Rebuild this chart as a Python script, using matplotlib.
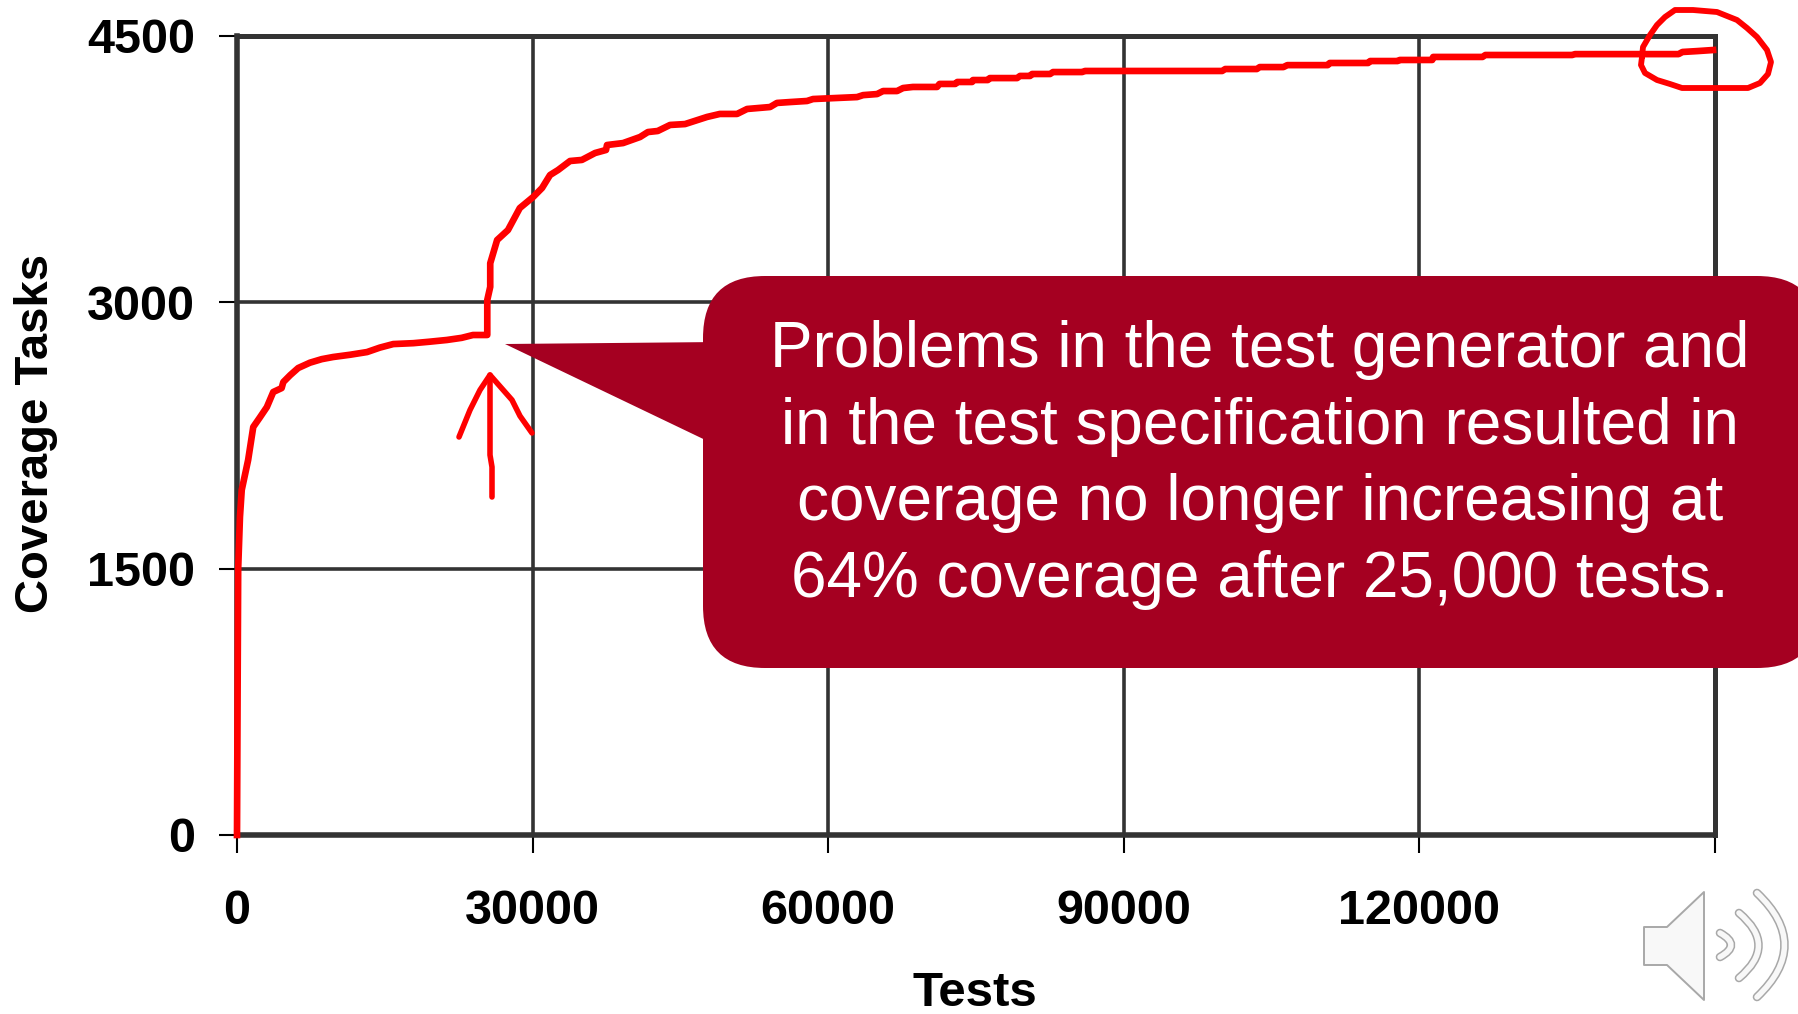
import matplotlib
matplotlib.use("Agg")
import matplotlib.pyplot as plt
from matplotlib.patches import FancyBboxPatch, Polygon, PathPatch
from matplotlib.path import Path

W, H = 1798, 1014

# coverage curve
tests = [0, 60, 120, 300, 480, 1130, 1650, 2300, 3030, 3680, 4530, 4700, 5400, 6210, 7400,
         8600, 9750, 11500, 13200, 14500, 15860, 17900, 19500, 21300, 22800, 23950, 25400,
         25400, 25700, 25700, 26400, 27500, 28700, 30050, 30960, 31770, 32580, 33800, 35000,
         36340, 37450, 37550, 39180, 40900, 41700, 42700, 43950, 45470, 47700, 49000, 50750,
         51770, 54100, 54800, 56130, 57850, 58460, 62930, 63540, 64960, 65570, 66990, 67600,
         68600, 71050, 71300, 72900, 73100, 74600, 74700, 76200, 76400, 79170, 79470, 80490,
         80690, 82520, 82820, 85770, 86070, 99980, 100300, 103500, 103800, 106200, 106600,
         110700, 110900, 114800, 115000, 117800, 118000, 121300, 121400, 126400, 126700,
         135500, 135800, 146300, 146700, 148200, 149800]
tasks = [0, 800, 1500, 1791, 1943, 2112, 2298, 2350, 2410, 2495, 2517, 2551, 2590, 2630, 2660,
         2680, 2692, 2705, 2720, 2745, 2765, 2770, 2778, 2788, 2800, 2816, 2816,
         3013, 3087, 3220, 3351, 3407, 3531, 3593, 3644, 3717, 3745, 3796, 3802,
         3841, 3858, 3886, 3897, 3931, 3959, 3965, 3999, 4004, 4044, 4061, 4061,
         4089, 4100, 4123, 4128, 4134, 4145, 4156, 4167, 4173, 4190, 4190, 4207,
         4213, 4213, 4230, 4230, 4241, 4241, 4252, 4252, 4263, 4263, 4275, 4275,
         4286, 4286, 4297, 4297, 4303, 4303, 4314, 4314, 4325, 4325, 4336,
         4336, 4348, 4348, 4359, 4359, 4365, 4365, 4382, 4382, 4393,
         4393, 4398, 4398, 4410, 4415, 4421]

x_ticks = [0, 30000, 60000, 90000, 120000, 150000]
x_labels = ["0", "30000", "60000", "90000", "120000", ""]
y_ticks = [0, 1500, 3000, 4500]
y_labels = ["0", "1500", "3000", "4500"]

callout_lines = [
    "Problems in the test generator and",
    "in the test specification resulted in",
    "coverage no longer increasing at",
    "64% coverage after 25,000 tests.",
]

# hand drawn ink, in pixels
ring_x = [1642, 1641, 1645, 1657, 1670, 1682, 1715, 1748, 1760, 1768, 1771, 1767, 1757, 1747,
          1737, 1717, 1693, 1675, 1665, 1657, 1650, 1643, 1642]
ring_y = [57, 65, 73, 80, 84, 88, 88, 88, 83, 74, 62, 50, 37, 28, 20, 12, 10, 10, 17, 25, 35, 47, 57]
arrow_head_x = [459, 470, 480, 490, 512, 520, 532]
arrow_head_y = [437, 410, 390, 375, 400, 416, 433]
arrow_shaft_x = [490, 490, 492, 492]
arrow_shaft_y = [375, 455, 467, 497]

plt.rcParams["font.family"] = ["Liberation Sans", "DejaVu Sans"]

DARK = "#333333"
RED = "#ff0000"
MAROON = "#a50021"
SPEAKER = "#a8a8a8"

fig = plt.figure(figsize=(W / 100, H / 100), dpi=100, facecolor="white")
ax = fig.add_axes([237 / W, 1 - 835 / H, (1715 - 237) / W, (835 - 36) / H])

ax.plot(tests, tasks, color=RED, lw=4.8, solid_joinstyle="round", clip_on=False, zorder=4)
ax.set_xlim(0, 150000)
ax.set_ylim(0, 4500)
ax.set_xticks(x_ticks)
ax.set_xticklabels(x_labels)
ax.set_yticks(y_ticks)
ax.set_yticklabels(y_labels)
ax.grid(True, color=DARK, lw=2.6)
ax.set_axisbelow(True)
for spine in ax.spines.values():
    spine.set_color(DARK)
    spine.set_linewidth(3.6)
ax.spines["left"].set_linewidth(4)
ax.spines["bottom"].set_linewidth(4)
ax.tick_params(axis="both", length=13, width=1.5, color="black", labelsize=35)
ax.tick_params(axis="x", pad=26)
ax.tick_params(axis="y", pad=17)
for label in ax.get_xticklabels() + ax.get_yticklabels():
    label.set_fontweight("bold")

# overlay in pixel coordinates for the callout, ink and speaker
ov = fig.add_axes([0, 0, 1, 1], facecolor="none")
ov.set_xlim(0, W)
ov.set_ylim(H, 0)
ov.axis("off")

ov.text(36, 433, "Coverage Tasks", rotation=90, ha="center", va="center",
        fontsize=34, fontweight="bold", color="black")
ov.text(975, 994, "Tests", ha="center", va="center", fontsize=35.5, fontweight="bold", color="black")

# callout body, runs off the right edge
ov.add_patch(FancyBboxPatch((703 + 62, 276 + 62), 1116 - 124, 392 - 124,
                            boxstyle="round,pad=62,rounding_size=62",
                            fc=MAROON, ec="none", clip_on=True, zorder=5))
ov.add_patch(Polygon([(505, 344), (720, 342), (720, 447)], closed=True, fc=MAROON, ec="none", zorder=5))
ov.text(1260, 465, "\n".join(callout_lines), color="white", ha="center", va="center",
        fontsize=46, linespacing=1.35, zorder=6)

# ink marks
ink = dict(color=RED, solid_capstyle="round", solid_joinstyle="round", zorder=7)
ov.plot(ring_x, ring_y, lw=4.2, **ink)
ov.plot(arrow_head_x, arrow_head_y, lw=4, **ink)
ov.plot(arrow_shaft_x, arrow_shaft_y, lw=4, **ink)

# speaker icon
ov.add_patch(Polygon([(1644, 927), (1667, 927), (1704, 892), (1704, 1000), (1667, 965), (1644, 965)],
                     closed=True, fc="#f8f8f8", ec=SPEAKER, lw=1.4, joinstyle="round"))


def sound_wave(x0, y0, cx, x1, y1):
    # curved band with a thin grey outline
    verts = [(x0, y0), (cx, (y0 + y1) / 2), (x1, y1)]
    path = Path(verts, [Path.MOVETO, Path.CURVE3, Path.CURVE3])
    ov.add_patch(PathPatch(path, fc="none", ec=SPEAKER, lw=6.2, capstyle="round"))
    ov.add_patch(PathPatch(path, fc="none", ec="#f8f8f8", lw=4, capstyle="round"))


sound_wave(1720, 933, 1742, 1720, 957)
sound_wave(1739, 913, 1778, 1739, 978)
sound_wave(1757, 893, 1812, 1757, 997)

fig.savefig("out.png", dpi=100)
